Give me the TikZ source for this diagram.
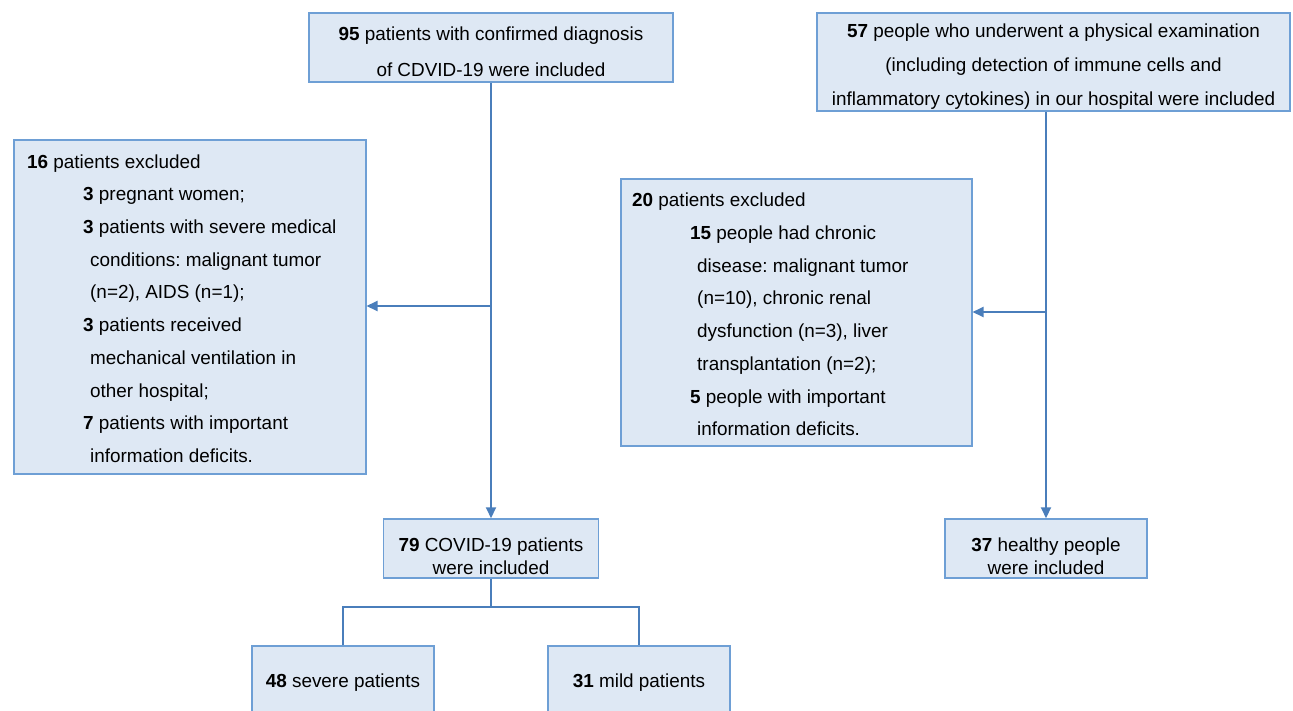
\documentclass[tikz,border=0pt]{standalone}
\usepackage{fontspec}
\setmainfont{Liberation Sans}
\usetikzlibrary{arrows.meta}
\definecolor{boxfill}{HTML}{DEE8F4}
\definecolor{boxline}{HTML}{6E9FD5}
\definecolor{connc}{HTML}{4A7EBB}
\frenchspacing
\begin{document}
\begin{tikzpicture}[x=1pt,y=-1pt,
 box/.style={draw=boxline,fill=boxfill,line width=1.5pt,inner sep=0pt},
 conn/.style={draw=connc,line width=2pt},
 arr/.style={conn,-{Triangle[length=11pt,width=10pt]}},
 txt/.style={font=\fontsize{18.9}{32.7}\selectfont, inner sep=0pt, align=left},
 ctxt/.style={inner sep=0pt, align=center}]
\useasboundingbox (0,0) rectangle (1293,710);
% boxes
\node[box, minimum width=364, minimum height=69] (b95) at (491,47.5) {};
\node[ctxt, font=\fontsize{18.9}{36}\selectfont] (b95t) at (491,52)
  {\textbf{95} patients with confirmed diagnosis\\of CDVID-19 were included};
\node[box, minimum width=473, minimum height=98] (b57) at (1053.5,62) {};
\node[ctxt, font=\fontsize{18.9}{34}\selectfont] (b57t) at (1053.5,67)
  {\textbf{57} people who underwent a physical examination\\(including detection of immune cells and\\inflammatory cytokines) in our hospital were included};
\node[box, minimum width=352, minimum height=334, anchor=north west] (ex1) at (13,139) {};
\node[txt, anchor=west] (ex1t) at (27,308.5) {\textbf{16} patients excluded\\
\hspace*{56pt}\textbf{3} pregnant women;\\
\hspace*{56pt}\textbf{3} patients with severe medical\\
\hspace*{63pt}conditions: malignant tumor\\
\hspace*{63pt}(n=2), AIDS (n=1);\\
\hspace*{56pt}\textbf{3} patients received\\
\hspace*{63pt}mechanical ventilation in\\
\hspace*{63pt}other hospital;\\
\hspace*{56pt}\textbf{7} patients with important\\
\hspace*{63pt}information deficits.};
\node[box, minimum width=351, minimum height=267, anchor=north west] (ex2) at (620,178) {};
\node[txt, anchor=west] (ex2t) at (632,314.5) {\textbf{20} patients excluded\\
\hspace*{58pt}\textbf{15} people had chronic\\
\hspace*{65pt}disease: malignant tumor\\
\hspace*{65pt}(n=10), chronic renal\\
\hspace*{65pt}dysfunction (n=3), liver\\
\hspace*{65pt}transplantation (n=2);\\
\hspace*{58pt}\textbf{5} people with important\\
\hspace*{65pt}information deficits.};
\node[box, minimum width=215, minimum height=59] (b79) at (491,548.5) {};
\node[ctxt, font=\fontsize{18.9}{23}\selectfont] (b79t) at (491,556.5)
  {\textbf{79} COVID-19 patients\\were included};
\node[box, minimum width=202, minimum height=59] (b37) at (1046,548.5) {};
\node[ctxt, font=\fontsize{18.9}{23}\selectfont] (b37t) at (1046,556.5)
  {\textbf{37} healthy people\\were included};
\node[box, minimum width=182, minimum height=70] (b48) at (343,681) {};
\node[ctxt, font=\fontsize{18.9}{20}\selectfont] (b48t) at (343,683)
  {\textbf{48} severe patients};
\node[box, minimum width=182, minimum height=70] (b31) at (639,681) {};
\node[ctxt, font=\fontsize{18.9}{20}\selectfont] (b31t) at (639,683)
  {\textbf{31} mild patients};
% connectors
\coordinate (top1) at (b79.north |- b95.south);
\draw[arr] (top1) -- (b79.north);
\coordinate (j1) at (491,306);
\draw[arr] (j1) -- (j1 -| ex1.east);
\coordinate (top2) at (b37.north |- b57.south);
\draw[arr] (top2) -- (b37.north);
\coordinate (j2) at (1046,312);
\draw[arr] (j2) -- (j2 -| ex2.east);
\coordinate (j3) at (491,607);
\draw[conn] (b79.south) -- (j3);
\draw[conn] (b48.north) |- (j3) -| (b31.north);
\end{tikzpicture}
\end{document}
